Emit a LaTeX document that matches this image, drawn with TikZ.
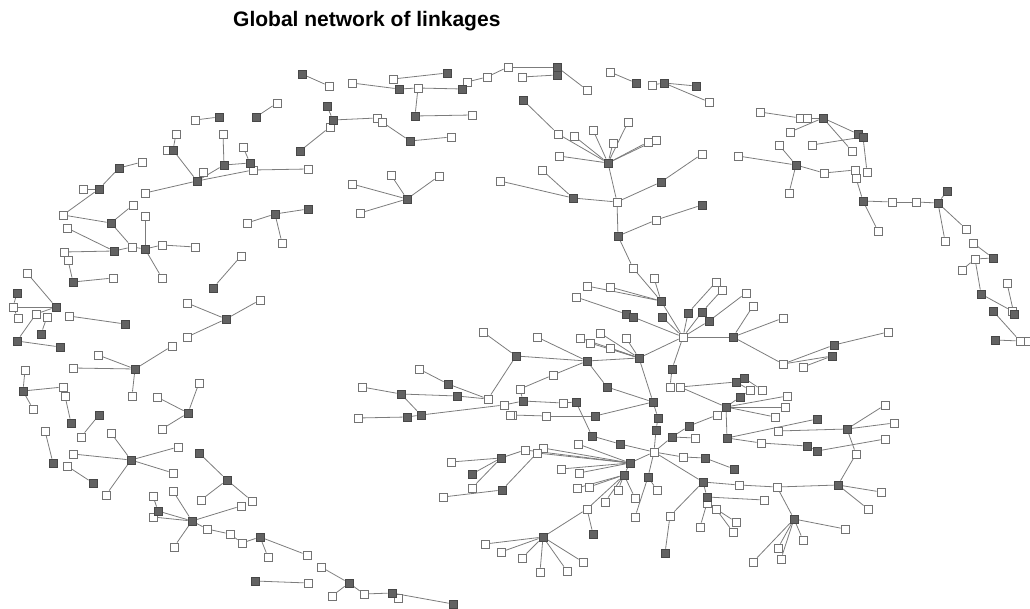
\documentclass[tikz,border=0pt]{standalone}
\usepackage{fontspec}
\setsansfont{Liberation Sans}
\usetikzlibrary{backgrounds}
\definecolor{nodegray}{HTML}{626262}
\definecolor{edgegray}{HTML}{7C7C7C}
\tikzset{
  wsq/.style={draw=black!55,fill=white,minimum size=8pt,inner sep=0pt,line width=0.8pt},
  gsq/.style={wsq,fill=nodegray,draw=black!72},
  link/.style={draw=edgegray,line width=0.8pt},
  charttitle/.style={font=\sffamily\bfseries\fontsize{21}{24}\selectfont,anchor=base west,inner sep=0pt}
}

\begin{document}
\begin{tikzpicture}[x=1pt,y=-1pt]
  \useasboundingbox (0,0) rectangle (1030,609);
  \node[charttitle] (title) at (233,27) {Global network of linkages};
  % white vertices
  \foreach \n/\x/\y in {L1/195/120,L4/277/103,L5/176/134,L7/167/150,L9/203/172,L10/223/134,L12/243/147,L14/253/170,L15/145/193,L17/142/162,L19/83/189,L20/63/215,L21/67/228,L23/133/205,L25/132/247,L27/145/216,L28/162/245,L29/195/247,L30/162/278,L31/64/252,L32/68/260,L34/113/278,L35/27/273,L38/13/307,L39/18/318,L40/36/314,L41/47/317,L45/69/316,L47/187/303,L49/260/300,L50/187/337,L51/241/256,L53/172/346,L54/98/355,L55/73/368,L57/132/396,L58/25/370,L60/63/387,L61/65/396,L62/33/409,L65/81/437,L66/157/397,L67/199/383,L69/162/429,L70/45/431,L72/67/466,L74/111/433,L75/73/454,L77/178/447,L78/173/473,L79/106/495,L82/201/500,L83/252/501,L84/153/496,L86/153/517,L87/173/491,L89/241/506,L90/207/529,L91/230/534,L92/242/543,L94/174/547,
    B2/268/557,B3/307/555,B5/308/583,B6/321/567,B8/332/596,B9/364/594,B11/398/598,
    T2/329/86,T3/352/83,T5/418/88,T6/393/79,T8/467/82,T10/487/77,T11/508/67,T13/472/115,T16/330/127,T17/377/118,T18/382/122,T20/451/137,T23/522/77,T26/587/90,T27/610/72,T29/652/85,T32/709/102,T33/308/169,T36/282/243,T37/247/223,T39/352/184,T40/391/175,T41/439/176,T42/360/213,
    U2/558/134,U3/574/136,U4/593/130,U5/613/143,U6/628/122,U7/648/142,U8/656/140,U9/559/156,U11/542/170,U13/500/181,U14/617/202,U16/702/154,U18/656/220,U20/633/268,U21/654/278,U22/587/286,U23/610/287,U25/576/297,U29/716/282,U30/722/290,U31/746/293,U35/753/306,
    C1/683/337,C3/537/337,C4/580/338,C5/590/343,C6/600/333,C7/626/338,C8/610/348,C12/553/375,C15/670/387,C16/680/387,C20/750/390,C21/762/390,C24/520/389,C25/563/403,C27/512/415,C28/546/416,C31/717/415,C37/695/438,C39/525/450,C40/543/448,C41/537/453,C42/578/444,C44/654/452,C45/683/457,C48/761/443,C51/561/469,C52/579/473,C54/577/488,C55/589/487,C56/618/490,C57/657/490,C58/605/502,C59/635/498,C60/587/509,C61/635/517,C63/739/485,C65/707/503,C66/716/509,C67/764/500,C68/670/516,C69/700/527,C70/736/522,C71/733/532,C75/522/558,C76/540/572,C77/567/571,C78/583/562,C79/753/562,
    M1/483/332,M2/419/369,M4/362/387,M7/488/399,M8/358/418,M11/504/405,M12/510/415,M14/451/462,M16/472/488,M18/443/497,M19/485/544,M20/501/552,
    R1/783/318,R4/888/332,R5/783/364,R6/803/367,R7/787/396,R8/785/407,R9/775/417,R10/778/431,R13/885/405,R14/894/423,R15/885/439,R18/856/454,R20/777/487,R21/881/492,R22/868/509,R24/845/529,R25/803/540,R26/778/548,R27/781/559,
    E1/760/112,E2/800/118,E3/807/118,E5/790/132,E6/779/145,E7/812/145,E10/852/151,E12/824/173,E13/855/170,E14/856/178,E15/867/172,E16/789/193,E18/892/202,E19/916/202,E22/738/156,E23/878/231,E24/945/241,E25/966/229,E26/973/243,E27/975/259,E29/962/270,E30/1007/283,E32/1012/311,E36/1020/341,E37/1028/341}
    \node[wsq] (\n) at (\x,\y) {};
  % grey vertices
  \foreach \n/\x/\y in {L2/219/117,L3/256/117,L6/173/150,L8/197/181,L11/224/165,L13/250/163,L16/119/168,L18/99/189,L22/111/223,L24/114/251,L26/145/249,L33/73/282,L36/17/293,L37/56/307,L42/41/334,L43/17/341,L44/60/347,L46/125/324,L48/226/319,L52/213/288,L56/135/369,L59/23/391,L63/71/423,L64/99/415,L68/188/413,L71/53/463,L73/93/483,L76/131/460,L80/199/453,L81/227/480,L85/158/511,L88/192/521,L93/260/537,
    B4/255/581,B7/349/583,B10/392/593,B12/453/604,
    T1/302/74,T4/399/89,T7/447/73,T9/462/89,T12/415/116,T14/327/106,T15/333/120,T19/410/141,T21/300/151,T24/557/67,T25/557/75,T28/636/83,T30/664/83,T31/696/86,T34/275/214,T35/308/209,T38/407/199,
    U1/523/100,U10/608/163,U12/573/198,U15/661/182,U17/702/205,U19/618/236,U24/661/301,U26/626/314,U27/633/317,U28/662/317,U32/688/313,U33/702/312,U34/709/321,
    C2/733/337,C9/516/356,C10/587/361,C11/639/358,C13/607/387,C14/672/369,C17/736/382,C18/744/378,C19/740/397,C22/653/402,C23/523/401,C26/576/402,C29/595/416,C30/658/418,C32/726/407,C33/656/430,C34/689/426,C35/592/436,C36/672/437,C38/727/438,C43/620/444,C46/705/458,C47/734/469,C49/630/463,C50/624/475,C53/648/477,C62/703/482,C64/707/497,C72/593/534,C73/665/553,C74/543/537,
    M3/448/384,M5/401/394,M6/457/396,M9/407/417,M10/421/415,M13/501/458,M15/472/474,M17/502/490,
    R2/834/345,R3/832/356,R11/817/419,R12/847/429,R16/807/446,R17/817/451,R19/838/485,R23/794/519,
    E4/823/118,E8/858/134,E9/863/137,E11/796/165,E17/863/201,E20/947/191,E21/938/203,E28/993/258,E31/981/294,E33/1014/314,E34/993/311,E35/995/340}
    \node[gsq] (\n) at (\x,\y) {};
  % links
  \begin{pgfonlayer}{background}
  \foreach \a/\b in {L1/L2,L3/L4,L5/L6,L7/L6,L6/L8,L8/L9,L8/L11,L10/L11,L11/L13,L12/L13,L8/L14,L8/L15,L14/T33,L17/L16,L16/L18,L19/L18,L18/L20,L20/L22,L22/L23,L22/L25,L21/L24,L31/L24,L24/L25,L25/L26,L26/L27,L26/L28,L28/L29,L26/L30,L32/L33,L33/L34,L35/L37,L38/L37,L36/L38,L39/L38,L37/L40,L40/L43,L41/L42,L43/L44,L45/L46,L47/L48,L48/L49,L50/L48,L51/L52,L53/L56,L54/L56,L55/L56,L56/L57,L58/L59,L59/L60,L59/L62,L61/L63,L64/L65,L66/L68,L67/L68,L68/L69,L70/L71,L72/L73,L74/L76,L75/L76,L76/L77,L76/L78,L76/L79,L80/L81,L81/L82,L81/L83,L84/L85,L85/L88,L86/L88,L87/L88,L88/L89,L88/L90,L90/L91,L91/L92,L92/L93,L88/L94,
    L93/B2,L93/B3,B4/B5,B6/B7,B7/B8,B7/B9,B9/B10,B10/B11,B10/B12,
    T1/T2,T3/T4,T4/T5,T6/T7,T5/T9,T9/T8,T8/T10,T10/T11,T5/T12,T12/T13,T14/T15,T15/T17,T18/T19,T19/T20,T15/T16,T16/T21,T11/T24,T23/T25,T24/T26,T27/T28,T29/T30,T30/T31,T30/T32,T37/T34,T34/T35,T34/T36,T38/T39,T38/T40,T38/T41,T38/T42,
    U1/U2,U2/U10,U3/U10,U4/U10,U5/U10,U6/U10,U7/U10,U8/U10,U9/U10,U11/U12,U13/U12,U12/U14,U10/U14,U14/U15,U15/U16,U19/U14,U19/U18,U18/U17,U19/U20,U20/U24,U21/U24,U22/U24,U23/U24,U25/U26,U26/U27,U27/C1,U24/C1,U28/C1,C1/U32,U32/U29,C1/U33,U33/U30,C1/U34,U34/U31,U35/C2,
    C1/C2,C3/C10,C9/C10,C10/C11,C4/C11,C5/C11,C6/C11,C7/C11,C8/C11,C11/C1,C10/C12,C10/C13,C13/C22,C11/C22,C1/C14,C14/C15,C16/C17,C17/C18,C17/C20,C18/C21,C19/C20,C12/C24,C24/C23,C23/C25,C25/C26,C27/C28,C28/C29,C26/C35,C29/C22,C22/C30,C30/C33,C33/C44,C44/C36,C34/C36,C31/C34,C32/C19,C32/C38,C32/C16,C36/C37,C44/C45,C45/C46,C46/C47,C44/C43,C43/C35,C44/C49,C49/C51,C49/C52,C49/C42,C49/C40,C49/C41,C49/C39,C49/C50,C50/C54,C50/C55,C50/C56,C50/C58,C50/C59,C50/C60,C44/C53,C53/C57,C53/C61,C44/C62,C62/C63,C63/R20,C62/C64,C64/C67,C64/C65,C65/C66,C66/C70,C66/C71,C65/C69,C68/C62,C68/C73,C60/C74,C60/C72,C74/C75,C74/C76,C74/C77,C74/C78,M19/C74,M20/C74,C38/C48,C48/R16,R11/C38,C2/R1,C2/R5,C32/R7,C32/R8,C32/R9,
    M1/C9,M2/M3,M3/M7,M4/M5,M5/M6,M6/M7,M7/C9,M8/M9,M9/M10,M10/M11,M5/M10,M11/C23,M12/C27,M13/M14,M13/M15,M16/M13,M18/M17,M13/C39,M17/C41,
    R2/R4,R5/R2,R5/R3,R6/R3,R10/R12,R12/R13,R12/R14,R12/R18,R16/R17,R17/R15,R18/R19,R20/R19,R19/R21,R19/R22,R20/R23,R23/R24,R23/R25,R23/R26,R23/R27,R23/C79,
    E1/E2,E2/E3,E3/E4,E5/E4,E4/E8,E4/E10,E8/E9,E7/E9,E9/E15,E6/E11,E22/E11,E11/E12,E12/E13,E11/E16,E14/E17,E17/E18,E18/E19,E19/E21,E21/E20,E17/E23,E21/E24,E21/E25,E26/E28,E27/E28,E29/E27,E27/E31,E31/E32,E30/E33,E34/E36,E35/E36,E36/E37}
    \draw[link] (\a) -- (\b);
  \end{pgfonlayer}
\end{tikzpicture}
\end{document}
